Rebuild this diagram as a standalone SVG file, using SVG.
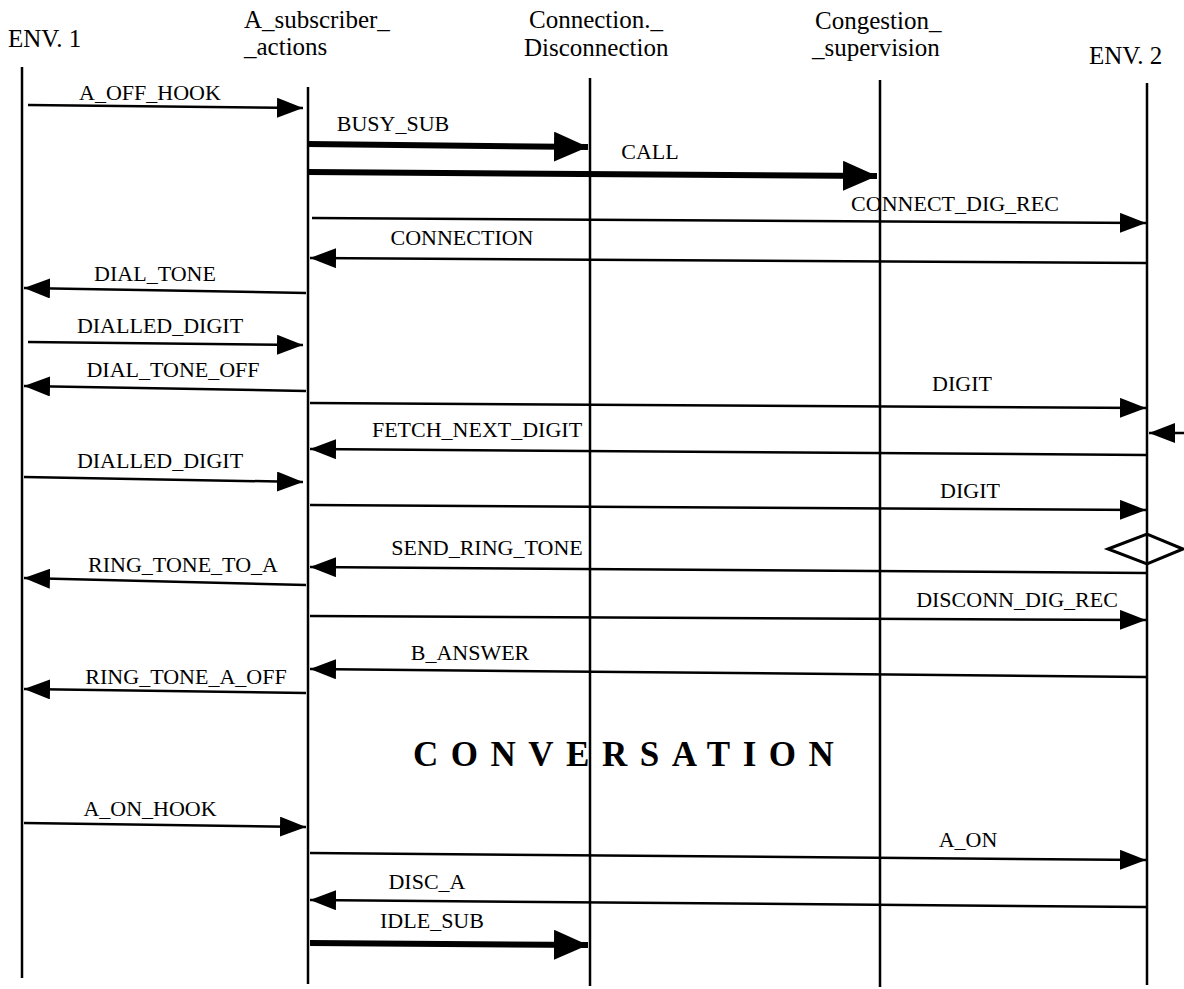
<svg xmlns="http://www.w3.org/2000/svg" width="1184" height="989" viewBox="0 0 1184 989">
  <defs>
    <style>
      .hdr { font-family: "Liberation Serif", "Times New Roman", serif; font-size: 25px; fill: #000; }
      .lbl { font-family: "Liberation Serif", "Times New Roman", serif; font-size: 22px; fill: #000; text-anchor: middle; }
      .big { font-family: "Liberation Serif", "Times New Roman", serif; font-size: 35px; font-weight: bold; fill: #000; letter-spacing: 12.5px; }
      .life { stroke: #000; stroke-width: 2.5; fill: none; }
      .msg { stroke: #000; stroke-width: 2.5; fill: none; marker-end: url(#head); }
      .msgw { stroke: #000; stroke-width: 6; fill: none; marker-end: url(#headw); }
    </style>
    <marker id="head" markerUnits="userSpaceOnUse" markerWidth="27" markerHeight="20" refX="26" refY="10" orient="auto">
      <path d="M0,0 L26,10 L0,20 z" fill="#000"/>
    </marker>
    <marker id="headw" markerUnits="userSpaceOnUse" markerWidth="35" markerHeight="30" refX="34" refY="15" orient="auto">
      <path d="M0,0 L34,15 L0,30 z" fill="#000"/>
    </marker>
  </defs>
  <rect width="1184" height="989" fill="#fff"/>

  <!-- instances: header plus lifeline -->
  <g id="env1">
    <text class="hdr" x="8" y="47">ENV. 1</text>
    <line class="life" x1="22" y1="67" x2="22" y2="978"/>
  </g>
  <g id="a_subscriber_actions">
    <text class="hdr" x="244" y="28">A_subscriber_</text>
    <text class="hdr" x="244" y="55">_actions</text>
    <line class="life" x1="308" y1="87" x2="308" y2="984"/>
  </g>
  <g id="connection_disconnection">
    <text class="hdr" x="529" y="28">Connection._</text>
    <text class="hdr" x="524" y="56">Disconnection</text>
    <line class="life" x1="590" y1="78" x2="590" y2="986"/>
  </g>
  <g id="congestion_supervision">
    <text class="hdr" x="815" y="29">Congestion_</text>
    <text class="hdr" x="812" y="56">_supervision</text>
    <line class="life" x1="880" y1="80" x2="880" y2="987"/>
  </g>
  <g id="env2">
    <text class="hdr" x="1089" y="64">ENV. 2</text>
    <line class="life" x1="1147" y1="83" x2="1147" y2="985"/>
  </g>

  <!-- decision symbol on ENV. 2 -->
  <g id="decision">
    <polygon points="1108,549 1147,534 1183,549 1147,564" fill="none" stroke="#000" stroke-width="3"/>
  </g>

  <!-- messages -->
  <g id="connectors">
    <line class="msg" x1="28" y1="105" x2="303" y2="108"/>
    <line class="msgw" x1="308" y1="144" x2="588" y2="147"/>
    <line class="msgw" x1="308" y1="172" x2="877" y2="176"/>
    <line class="msg" x1="312" y1="218" x2="1146" y2="223"/>
    <line class="msg" x1="1146" y1="263" x2="310" y2="258"/>
    <line class="msg" x1="306" y1="293" x2="24" y2="288"/>
    <line class="msg" x1="28" y1="342" x2="303" y2="345"/>
    <line class="msg" x1="306" y1="391" x2="24" y2="386"/>
    <line class="msg" x1="310" y1="403" x2="1146" y2="408"/>
    <line class="msg" x1="1184" y1="433" x2="1149" y2="433"/>
    <line class="msg" x1="1146" y1="455" x2="310" y2="449"/>
    <line class="msg" x1="24" y1="477" x2="303" y2="482"/>
    <line class="msg" x1="310" y1="505" x2="1146" y2="510"/>
    <line class="msg" x1="1146" y1="573" x2="310" y2="567"/>
    <line class="msg" x1="306" y1="585" x2="24" y2="578"/>
    <line class="msg" x1="310" y1="616" x2="1146" y2="620"/>
    <line class="msg" x1="1146" y1="677" x2="310" y2="669"/>
    <line class="msg" x1="306" y1="693" x2="24" y2="689"/>
    <line class="msg" x1="24" y1="823" x2="306" y2="827"/>
    <line class="msg" x1="310" y1="853" x2="1146" y2="860"/>
    <line class="msg" x1="1146" y1="907" x2="310" y2="900"/>
    <line class="msgw" x1="310" y1="943" x2="588" y2="945"/>
  </g>

  <!-- message names -->
  <g id="labels">
    <text class="lbl" x="150" y="100">A_OFF_HOOK</text>
    <text class="lbl" x="393" y="131">BUSY_SUB</text>
    <text class="lbl" x="650" y="159">CALL</text>
    <text class="lbl" x="955" y="211">CONNECT_DIG_REC</text>
    <text class="lbl" x="462" y="245">CONNECTION</text>
    <text class="lbl" x="155" y="281">DIAL_TONE</text>
    <text class="lbl" x="160" y="333">DIALLED_DIGIT</text>
    <text class="lbl" x="173" y="377">DIAL_TONE_OFF</text>
    <text class="lbl" x="962" y="391">DIGIT</text>
    <text class="lbl" x="477" y="437">FETCH_NEXT_DIGIT</text>
    <text class="lbl" x="160" y="468">DIALLED_DIGIT</text>
    <text class="lbl" x="970" y="498">DIGIT</text>
    <text class="lbl" x="487" y="555">SEND_RING_TONE</text>
    <text class="lbl" x="183" y="572">RING_TONE_TO_A</text>
    <text class="lbl" x="1017" y="607">DISCONN_DIG_REC</text>
    <text class="lbl" x="470" y="660">B_ANSWER</text>
    <text class="lbl" x="186" y="684">RING_TONE_A_OFF</text>
    <text class="lbl" x="150" y="816">A_ON_HOOK</text>
    <text class="lbl" x="968" y="847">A_ON</text>
    <text class="lbl" x="427" y="889">DISC_A</text>
    <text class="lbl" x="432" y="928">IDLE_SUB</text>
  </g>

  <text class="big" x="413" y="766">CONVERSATION</text>
</svg>
